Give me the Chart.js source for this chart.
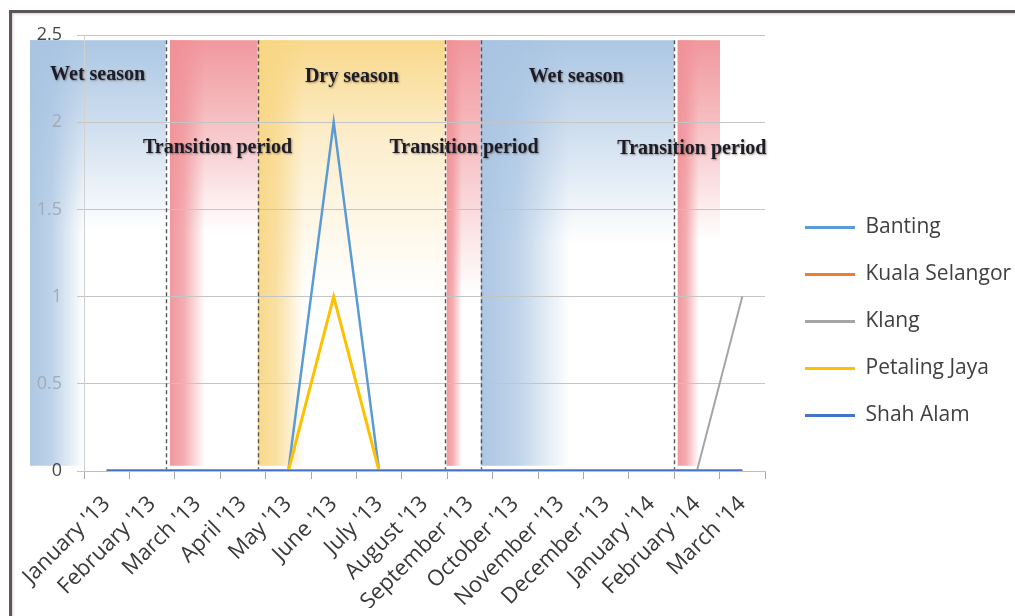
<!DOCTYPE html>
<html><head><meta charset="utf-8">
<script src="https://cdn.jsdelivr.net/npm/chart.js@4.4.0/dist/chart.umd.min.js"></script>
<style>
html,body{margin:0;padding:0;background:#fff;overflow:hidden;width:1015px;height:616px;}
#frame{position:absolute;left:9px;top:10px;width:1100px;height:700px;border:3px solid #5e5656;box-shadow:inset 1px 1px 3px rgba(0,0,0,0.18);}
#wrap{position:absolute;left:0;top:0;width:1015px;height:616px;}
</style></head><body>
<div id="frame"></div>
<div id="wrap"><canvas id="c" width="1015" height="616"></canvas></div>
<script>
// ---- data ----
const months = ["January '13","February '13","March '13","April '13","May '13","June '13","July '13","August '13","September '13","October '13","November '13","December '13","January '14","February '14","March '14"];
const banting       = [0,0,0,0,0,2,0,0,0,0,0,0,0,0,0];
const kualaSelangor = [0,0,0,0,0,0,0,0,0,0,0,0,0,0,0];
const klang         = [0,0,0,0,0,0,0,0,0,0,0,0,0,0,1];
const petalingJaya  = [0,0,0,0,0,1,0,0,0,0,0,0,0,0,0];
const shahAlam      = [0,0,0,0,0,0,0,0,0,0,0,0,0,0,0];
const seriesNames   = ['Banting','Kuala Selangor','Klang','Petaling Jaya','Shah Alam'];

// season bands, in category-index units on x and value units on y
const seasonNames = ['Wet season','Transition period','Dry season','Transition period','Wet season','Transition period'];
const bandFrom = [-1.69, 1.394, 3.33, 7.489, 8.24, 12.577];
const bandTo   = [ 1.30, 3.326, 7.45, 8.238, 12.496, 13.509];
const dividers = [1.30, 3.326, 7.45, 8.238, 12.496];
const labelX   = [-0.2, 2.44, 5.40, 7.87, 10.34, 12.89];
const labelY   = [2.27, 1.852, 2.26, 1.852, 2.26, 1.85];
const bandTopVal = 2.47, bandBottomVal = 0.03;

// ---- styles ----
const BLUE=[168,196,226], RED=[240,146,152], ORANGE=[248,214,132];
const bandStyle = [
  {c:BLUE, fy:0.45, fx:0.40, mid:0.6},
  {c:RED, fy:0.45, fx:0.40, mid:0.6},
  {c:ORANGE, fy:0.6, fx:0.25, mid:0.4},
  {c:RED, fy:0.6, fx:0.45, mid:0.6},
  {c:BLUE, fy:0.48, fx:0.46, mid:0.6},
  {c:RED, fy:0.47, fx:0.5, mid:0.6}
];

function drawBand(ctx, x0, x1, y0, y1, st) {
  const c = st.c;
  const rgba = a => `rgba(${c[0]},${c[1]},${c[2]},${a})`;
  let g = ctx.createLinearGradient(0, y0, 0, y1);
  g.addColorStop(0, rgba(0.95));
  g.addColorStop(st.fy*0.4, rgba(st.mid));
  g.addColorStop(st.fy, rgba(0));
  g.addColorStop(1, rgba(0));
  ctx.fillStyle = g; ctx.fillRect(x0, y0, x1-x0, y1-y0);
  g = ctx.createLinearGradient(x0, 0, x1, 0);
  g.addColorStop(0, rgba(0.95));
  g.addColorStop(st.fx*0.4, rgba(0.75));
  g.addColorStop(st.fx, rgba(0));
  g.addColorStop(1, rgba(0));
  ctx.fillStyle = g; ctx.fillRect(x0, y0, x1-x0, y1-y0);
}

const seasonsPlugin = {
  id: 'seasons',
  beforeDraw(chart) {
    const {ctx, scales:{x, y}} = chart;
    const y0 = y.getPixelForValue(bandTopVal), y1 = y.getPixelForValue(bandBottomVal);
    ctx.save();
    for (let i = 0; i < bandFrom.length; i++) {
      drawBand(ctx, x.getPixelForValue(bandFrom[i]), x.getPixelForValue(bandTo[i]), y0, y1, bandStyle[i]);
    }
    ctx.restore();
  },
  beforeDatasetsDraw(chart) {
    const {ctx, scales:{x, y}} = chart;
    const y0 = y.getPixelForValue(bandTopVal), y1 = y.getPixelForValue(0);
    ctx.save();
    ctx.strokeStyle = '#555555'; ctx.lineWidth = 1.4; ctx.setLineDash([4,3]);
    dividers.forEach(d => {
      const px = Math.round(x.getPixelForValue(d)) + 0.5;
      ctx.beginPath(); ctx.moveTo(px, y0); ctx.lineTo(px, y1); ctx.stroke();
    });
    ctx.restore();
  },
  afterDatasetsDraw(chart) {
    const {ctx, scales:{x, y}} = chart;
    ctx.save();
    ctx.font = 'bold 20px "Liberation Serif", "Times New Roman", serif';
    ctx.textAlign = 'center'; ctx.textBaseline = 'middle';
    ctx.shadowColor = 'rgba(70,50,30,0.5)'; ctx.shadowBlur = 2; ctx.shadowOffsetX = 1; ctx.shadowOffsetY = 1;
    ctx.fillStyle = '#1c1c28';
    seasonNames.forEach((t, i) => {
      ctx.fillText(t, x.getPixelForValue(labelX[i]), y.getPixelForValue(labelY[i]));
    });
    ctx.restore();
  }
};

const colors = ['#5B9BD5','#ED7D31','#A5A5A5','#FFC000','#4472C4'];
const widths = [2.5, 3, 2, 3, 3];
const orders = [5, 4, 3, 2, 1];
const values = [banting, kualaSelangor, klang, petalingJaya, shahAlam];

new Chart(document.getElementById('c'), {
  type: 'line',
  data: {
    labels: months,
    datasets: seriesNames.map((n, i) => ({
      label: n, data: values[i], borderColor: colors[i], backgroundColor: colors[i],
      borderWidth: widths[i], order: orders[i], pointRadius: 0, tension: 0, fill: false, yAxisID: 'y'
    }))
  },
  options: {
    responsive: false, animation: false,
    layout: { padding: { top: 35, bottom: 8, left: 0, right: 0 } },
    plugins: {
      tooltip: { enabled: false },
      legend: {
        position: 'right', align: 'center', maxWidth: 236,
        labels: {
          boxWidth: 50, boxHeight: 3, padding: 26, color: '#404040',
          font: { family: '"Open Sans", sans-serif', size: 21 },
          sort: (a, b) => a.datasetIndex - b.datasetIndex,
          generateLabels(chart) {
            const items = Chart.defaults.plugins.legend.labels.generateLabels(chart);
            items.forEach(it => { it.fillStyle = it.strokeStyle; it.strokeStyle = 'rgba(0,0,0,0)'; it.lineWidth = 1; });
            return items;
          }
        }
      }
    },
    scales: {
      x: {
        type: 'category', offset: true,
        grid: { offset: true, drawOnChartArea: false, drawTicks: true, tickLength: 8, color: '#a8a8a8' },
        border: { display: true, color: '#bfbfbf' },
        ticks: { minRotation: 45, maxRotation: 45, autoSkip: false, padding: 12, color: '#3a3a3a',
                 font: { family: '"Open Sans", sans-serif', size: 22 } },
        afterFit(s) { s.height = 137; }
      },
      y: {
        min: 0, max: 2.5,
        grid: { color: '#c4c4c4', tickLength: 7, drawTicks: true },
        border: { display: true, color: '#d0d0d0' },
        ticks: { stepSize: 0.5, padding: 15, font: { family: '"Open Sans", sans-serif', size: 18 },
                 callback: v => String(v),
                 color: c => (c.tick && (c.tick.value === 0 || c.tick.value === 2.5)) ? '#454545' : '#a3abb6' },
        afterFit(s) { s.width = 84; }
      },
      y2: {
        position: 'right', display: true,
        grid: { display: false }, ticks: { display: false }, border: { display: false },
        afterFit(s) { s.width = 14; }
      }
    }
  },
  plugins: [seasonsPlugin]
});
</script>
</body></html>
